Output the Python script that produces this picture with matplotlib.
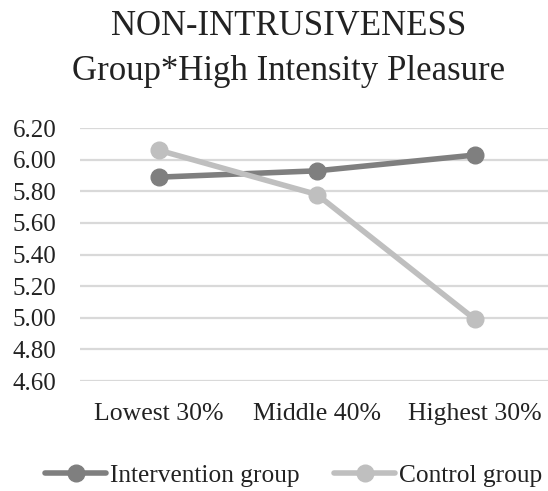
import numpy as np
import matplotlib.pyplot as plt

plt.rcParams['font.family'] = ['Liberation Serif', 'DejaVu Serif']

categories = ['Lowest 30%', 'Middle 40%', 'Highest 30%']
intervention = [5.89, 5.93, 6.03]
control = [6.06, 5.78, 4.99]
yticks = [4.60, 4.80, 5.00, 5.20, 5.40, 5.60, 5.80, 6.00, 6.20]

fig = plt.figure(figsize=(5.48, 4.91), dpi=100)
ax = fig.add_axes([0.146, 0.224, 0.865, 0.515])

x = np.arange(len(categories))
ax.plot(x, intervention, color='#7f7f7f', lw=4, marker='o', ms=12,
        solid_capstyle='round', label='Intervention group', zorder=3)
ax.plot(x, control, color='#bfbfbf', lw=4, marker='o', ms=12,
        solid_capstyle='round', label='Control group', zorder=3)

ax.set_xlim(-0.5, 2.5)
ax.set_ylim(4.6, 6.2)
ax.set_yticks(yticks)
ax.set_yticklabels(['%.2f' % v for v in yticks])
ax.set_xticks(x)
ax.set_xticklabels(categories)
ax.tick_params(axis='both', length=0, colors='#222222')
ax.tick_params(axis='y', pad=17, labelsize=18)
ax.tick_params(axis='x', pad=16, labelsize=18.5)
ax.grid(axis='y', color='#d9d9d9', lw=1.6)
ax.set_axisbelow(True)
for s in ax.spines.values():
    s.set_visible(False)

fig.text(0.526, 0.929, 'NON-INTRUSIVENESS', ha='center', va='baseline',
         fontsize=25, color='#222222')
fig.text(0.526, 0.837, 'Group*High Intensity Pleasure', ha='center', va='baseline',
         fontsize=25, color='#222222')

fig.legend(loc='center', bbox_to_anchor=(0.536, 0.031), ncol=2, frameon=False,
           fontsize=18.3, handlelength=2.4, handletextpad=0.16, columnspacing=1.35,
           labelcolor='#222222', borderaxespad=0, borderpad=0)

fig.savefig('out.png', dpi=100)
